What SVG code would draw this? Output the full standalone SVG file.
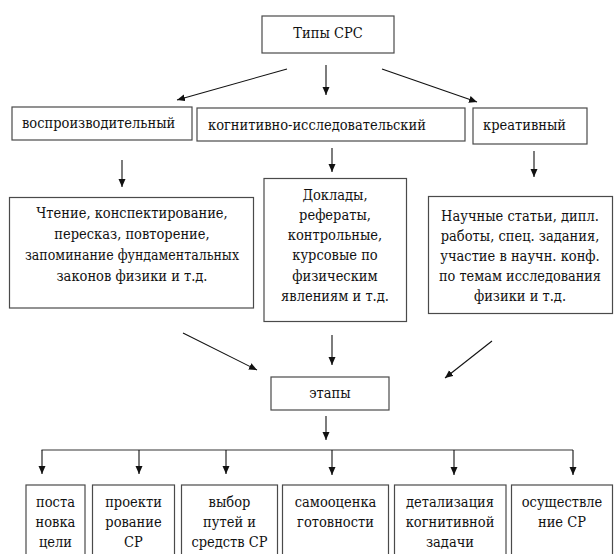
<svg xmlns="http://www.w3.org/2000/svg" width="614" height="554" viewBox="0 0 614 554">
<style>
.b{fill:#fff;stroke:#4a4a4a;stroke-width:1.2}
.t{font-family:'DejaVu Serif Condensed','DejaVu Serif',serif;font-stretch:condensed;font-size:14.5px;fill:#111}
.m{text-anchor:middle}
.c{stroke:#111;stroke-width:1.1;fill:none}
.bar{stroke:#777;stroke-width:1.6;fill:none}
</style>
<defs>
<marker id="ah" markerUnits="userSpaceOnUse" markerWidth="9" markerHeight="8" refX="8" refY="3.5" orient="auto">
<path d="M0,0 L8,3.5 L0,7 z" fill="#111"/>
</marker>
</defs>
<rect width="614" height="554" fill="#fff"/>
<g id="connectors">
<line class="c" x1="287" y1="69" x2="177" y2="100" marker-end="url(#ah)"/>
<line class="c" x1="326" y1="65" x2="326" y2="95" marker-end="url(#ah)"/>
<line class="c" x1="382" y1="69" x2="477" y2="102" marker-end="url(#ah)"/>
<line class="c" x1="122" y1="160" x2="122" y2="187" marker-end="url(#ah)"/>
<line class="c" x1="332" y1="148" x2="332" y2="172" marker-end="url(#ah)"/>
<line class="c" x1="534" y1="151" x2="534" y2="177" marker-end="url(#ah)"/>
<line class="c" x1="183" y1="333" x2="257" y2="370" marker-end="url(#ah)"/>
<line class="c" x1="332" y1="335" x2="332" y2="365" marker-end="url(#ah)"/>
<line class="c" x1="492" y1="341" x2="445" y2="378" marker-end="url(#ah)"/>
<line class="c" x1="326" y1="416" x2="326" y2="440" marker-end="url(#ah)"/>
<line class="bar" x1="41.5" y1="450" x2="573" y2="450"/>
<line class="c" x1="42" y1="450" x2="42" y2="474" marker-end="url(#ah)"/>
<line class="c" x1="139" y1="450" x2="139" y2="474" marker-end="url(#ah)"/>
<line class="c" x1="226" y1="450" x2="226" y2="474" marker-end="url(#ah)"/>
<line class="c" x1="332" y1="450" x2="332" y2="475" marker-end="url(#ah)"/>
<line class="c" x1="454" y1="450" x2="454" y2="475" marker-end="url(#ah)"/>
<line class="c" x1="573" y1="450" x2="573" y2="475" marker-end="url(#ah)"/>
</g>
<g id="types">
<rect class="b" x="262" y="16" width="132" height="37"/>
<text class="t m" x="328" y="38">Типы СРС</text>
</g>
<g id="reproductive">
<rect class="b" x="12" y="107" width="180" height="33"/>
<text class="t" x="22" y="128">воспроизводительный</text>
</g>
<g id="cognitive">
<rect class="b" x="197" y="108" width="268" height="33"/>
<text class="t" x="208" y="130">когнитивно-исследовательский</text>
</g>
<g id="creative">
<rect class="b" x="473" y="108" width="114" height="36"/>
<text class="t" x="483" y="130">креативный</text>
</g>
<g id="reproductive-detail">
<rect class="b" x="9.5" y="197.5" width="244" height="110.5"/>
<text class="t m" x="132" y="218">Чтение, конспектирование,</text>
<text class="t m" x="132" y="239">пересказ, повторение,</text>
<text class="t m" x="132" y="260" textLength="214" lengthAdjust="spacingAndGlyphs">запоминание фундаментальных</text>
<text class="t m" x="132" y="281">законов физики и т.д.</text>
</g>
<g id="cognitive-detail">
<rect class="b" x="264" y="178.5" width="142.5" height="143"/>
<text class="t m" x="335" y="200">Доклады,</text>
<text class="t m" x="335" y="220">рефераты,</text>
<text class="t m" x="335" y="240">контрольные,</text>
<text class="t m" x="335" y="260">курсовые по</text>
<text class="t m" x="335" y="281">физическим</text>
<text class="t m" x="335" y="301">явлениям и т.д.</text>
</g>
<g id="creative-detail">
<rect class="b" x="428.5" y="196.5" width="184" height="117"/>
<text class="t m" x="520" y="221">Научные статьи, дипл.</text>
<text class="t m" x="520" y="241">работы, спец. задания,</text>
<text class="t m" x="520" y="261">участие в научн. конф.</text>
<text class="t m" x="520" y="281" textLength="162" lengthAdjust="spacingAndGlyphs">по темам исследования</text>
<text class="t m" x="520" y="301">физики и т.д.</text>
</g>
<g id="stages">
<rect class="b" x="271" y="377" width="118" height="33"/>
<text class="t m" x="330" y="398">этапы</text>
</g>
<g id="stage1">
<rect class="b" x="26" y="485" width="59" height="80"/>
<text class="t m" x="55.5" y="507">поста</text>
<text class="t m" x="55.5" y="527">новка</text>
<text class="t m" x="55.5" y="547">цели</text>
</g>
<g id="stage2">
<rect class="b" x="92.5" y="485" width="82" height="80"/>
<text class="t m" x="133.5" y="507">проекти</text>
<text class="t m" x="133.5" y="527">рование</text>
<text class="t m" x="133.5" y="547">СР</text>
</g>
<g id="stage3">
<rect class="b" x="181.5" y="485" width="96" height="80"/>
<text class="t m" x="229.5" y="507">выбор</text>
<text class="t m" x="229.5" y="527">путей и</text>
<text class="t m" x="229.5" y="547">средств СР</text>
</g>
<g id="stage4">
<rect class="b" x="282.5" y="485" width="106" height="80"/>
<text class="t m" x="335.5" y="507">самооценка</text>
<text class="t m" x="335.5" y="527">готовности</text>
</g>
<g id="stage5">
<rect class="b" x="394.5" y="485" width="111.5" height="80"/>
<text class="t m" x="450" y="507">детализация</text>
<text class="t m" x="450" y="527">когнитивной</text>
<text class="t m" x="450" y="547">задачи</text>
</g>
<g id="stage6">
<rect class="b" x="511.5" y="485" width="101" height="80"/>
<text class="t m" x="562" y="507">осуществле</text>
<text class="t m" x="562" y="527">ние СР</text>
</g>
</svg>
